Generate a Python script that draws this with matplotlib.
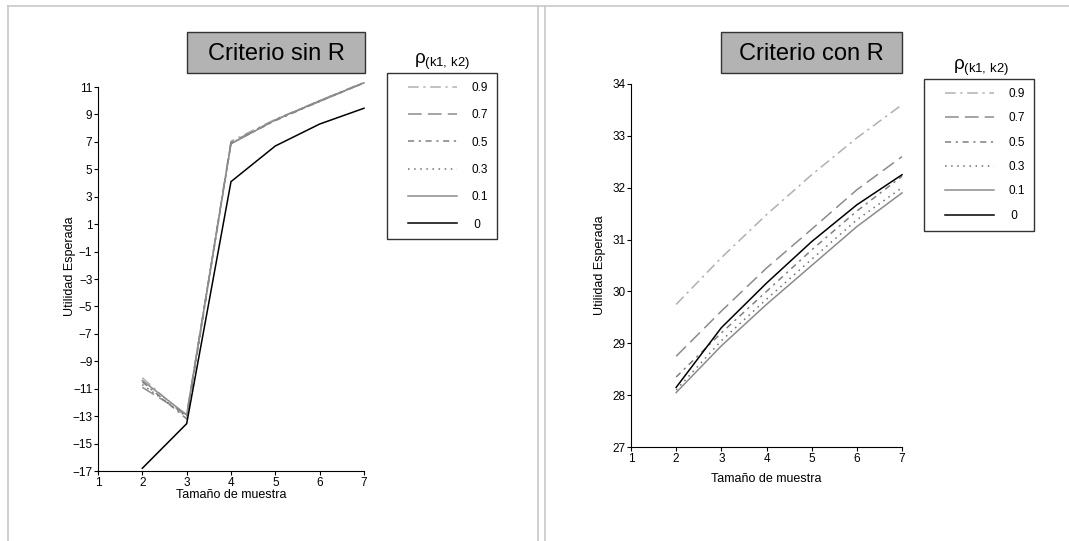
#%% Imports
import matplotlib
matplotlib.use("Agg")
import matplotlib.pyplot as plt
from matplotlib.lines import Line2D
from matplotlib.patches import Rectangle
from matplotlib.legend_handler import HandlerLine2D

plt.rcParams['font.family'] = ['Liberation Sans', 'DejaVu Sans']
plt.rcParams['mathtext.fontset'] = 'custom'
plt.rcParams['mathtext.rm'] = 'Liberation Sans'
plt.rcParams['mathtext.it'] = 'Liberation Sans'

#%% Data
tamano = [2, 3, 4, 5, 6, 7]
rho_labels = ['0.9', '0.7', '0.5', '0.3', '0.1', ' 0']

# Criterio sin R
sin_r_09 = [-10.2, -13.1, 7.05, 8.65, 10.0, 11.35]
sin_r_07 = [-10.9, -12.9, 6.95, 8.6, 9.95, 11.3]
sin_r_05 = [-10.5, -13.2, 6.9, 8.55, 9.95, 11.3]
sin_r_03 = [-10.7, -13.0, 6.9, 8.6, 10.0, 11.3]
sin_r_01 = [-10.4, -12.9, 6.85, 8.6, 10.0, 11.3]
sin_r_00 = [-16.8, -13.55, 4.1, 6.7, 8.3, 9.45]

# Criterio con R
con_r_09 = [29.75, 30.65, 31.48, 32.25, 32.96, 33.6]
con_r_07 = [28.75, 29.62, 30.45, 31.2, 31.96, 32.6]
con_r_05 = [28.35, 29.2, 30.0, 30.8, 31.55, 32.22]
con_r_03 = [28.1, 29.05, 29.85, 30.62, 31.38, 32.0]
con_r_01 = [28.05, 28.95, 29.75, 30.5, 31.25, 31.9]
con_r_00 = [28.15, 29.3, 30.16, 30.96, 31.67, 32.25]

sin_r = [sin_r_09, sin_r_07, sin_r_05, sin_r_03, sin_r_01, sin_r_00]
con_r = [con_r_09, con_r_07, con_r_05, con_r_03, con_r_01, con_r_00]

styles = [
    dict(color='#b0b0b0', linestyle=(0, (7, 3, 1.5, 3))),
    dict(color='#8c8c8c', linestyle=(0, (9, 4))),
    dict(color='#808080', linestyle=(0, (4, 3, 1.5, 3))),
    dict(color='#707070', linestyle=(0, (1, 3))),
    dict(color='#8c8c8c', linestyle='-'),
    dict(color='black', linestyle='-'),
]

#%% Figure
W, H = 1069, 541
fig = plt.figure(figsize=(W / 100, H / 100), dpi=100)

def fx(px):
    return px / W

def fy(py):
    return 1 - py / H

# panel borders
for x in (8, 538, 545):
    fig.add_artist(Line2D([fx(x), fx(x)], [0, fy(6)], color='#c8c8c8', lw=1.2))
fig.add_artist(Line2D([fx(8), 1], [fy(6), fy(6)], color='#c8c8c8', lw=1.2))


def draw_panel(rect, data, ylim, yticks, title, title_box, legend_box,
               spacing, xlabelpad, ylabel_xy):
    ax = fig.add_axes(rect)
    lines = []
    for values, st, lab in zip(data, styles, rho_labels):
        ln, = ax.plot(tamano, values, lw=1.1, label=lab, clip_on=False, **st)
        lines.append(ln)
    ax.set_xlim(1, 7)
    ax.set_ylim(*ylim)
    ax.set_xticks(range(1, 8))
    ax.set_yticks(yticks)
    ax.set_yticklabels([str(t).replace('-', '\u2212') for t in yticks])
    ax.spines['top'].set_visible(False)
    ax.spines['right'].set_visible(False)
    ax.tick_params(labelsize=8.5, length=3, pad=1)
    ax.set_xlabel('Tamaño de muestra', fontsize=9, labelpad=xlabelpad)
    ax.set_ylabel('Utilidad Esperada', fontsize=9)
    ax.yaxis.set_label_coords(*ylabel_xy)

    # title box
    x0, y0, x1, y1 = title_box
    fig.add_artist(Rectangle((fx(x0), fy(y1)), fx(x1 - x0), (y1 - y0) / H,
                             facecolor='#b3b3b3', edgecolor='#333333', lw=1))
    fig.text(fx((x0 + x1) / 2), fy((y0 + y1) / 2 + 1), title, fontsize=17,
             ha='center', va='center')

    # legend
    lx0, ly0, lx1, ly1 = legend_box
    leg = fig.legend(handles=lines, loc='upper left',
                     bbox_to_anchor=(fx(lx0), fy(ly0)), borderaxespad=0,
                     fontsize=8.5, frameon=True, fancybox=False,
                     edgecolor='black', borderpad=0.75, labelspacing=spacing,
                     handlelength=5.2, handletextpad=1.2,
                     handler_map={Line2D: HandlerLine2D(xpad=1.0)})
    leg.get_frame().set_linewidth(1)
    fig.text(fx((lx0 + lx1) / 2), fy(ly0 - 1), r'$\rho_{(k1,\,k2)}$',
             fontsize=13.5, ha='center', va='bottom')
    return ax


draw_panel([fx(98), fy(471), fx(364 - 98), (471 - 87) / H], sin_r,
           (-17, 11), list(range(-17, 12, 2)), 'Criterio sin R',
           (187, 32, 365, 73), (387, 73, 497, 238), 1.3, 0, (-0.082, 0.534))

draw_panel([fx(631), fy(447), fx(902 - 631), (447 - 84) / H], con_r,
           (27, 34), list(range(27, 35)), 'Criterio con R',
           (721, 32, 902, 73), (924, 79, 1038, 231), 1.05, 6, (-0.092, 0.5))

fig.savefig('out.png', dpi=100)
